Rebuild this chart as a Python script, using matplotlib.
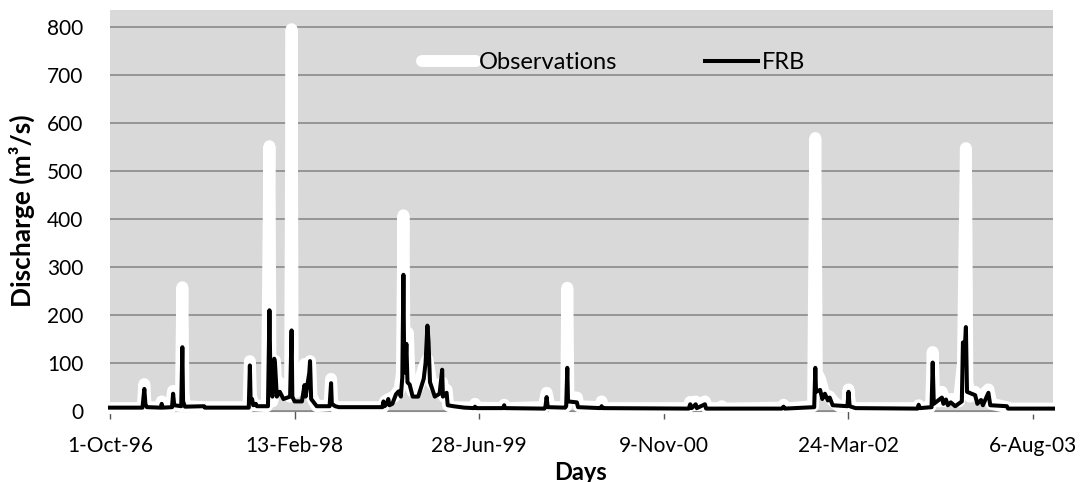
import numpy as np
import matplotlib.pyplot as plt

# day number counted from 1-Oct-96, daily discharge in m3/s
obs_days = [0, 85, 90, 93, 96, 100, 135, 140, 143, 165, 171, 174, 192, 196, 199, 203,
            255, 375, 379, 382, 390, 425, 432, 435, 440, 447, 451, 460, 468, 488, 492,
            495, 505, 520, 527, 535, 542, 546, 560, 595, 599, 602, 610, 740, 745, 755,
            770, 785, 791, 795, 798, 807, 812, 820, 835, 850, 860, 870, 890, 900, 905,
            912, 916, 925, 985, 989, 993, 1064, 1068, 1072, 1175, 1183, 1190, 1200,
            1233, 1236, 1239, 1242, 1265, 1270, 1328, 1332, 1336, 1565, 1572, 1580,
            1587, 1595, 1612, 1618, 1654, 1658, 1662, 1820, 1825, 1830, 1905, 1911,
            1915, 1924, 1935, 1950, 1960, 1975, 1997, 2001, 2005, 2015, 2187, 2191,
            2195, 2222, 2225, 2229, 2233, 2245, 2254, 2262, 2280, 2300, 2311, 2319,
            2323, 2330, 2344, 2355, 2380, 2388, 2430, 2435, 2555]
obs_vals = [6, 6, 20, 56, 15, 8, 7, 20, 8, 8, 42, 12, 10, 258, 40, 10,
            8, 8, 104, 30, 12, 10, 552, 60, 20, 105, 40, 59, 40, 30, 796,
            60, 40, 60, 98, 70, 104, 30, 10, 12, 67, 20, 8, 8, 20, 25,
            30, 46, 80, 408, 120, 163, 60, 40, 50, 90, 108, 60, 40, 60, 30,
            44, 12, 8, 7, 15, 7, 6, 13, 6, 8, 38, 12, 8,
            8, 10, 257, 30, 28, 10, 8, 20, 6, 6, 19, 12,
            20, 12, 20, 6, 6, 10, 5, 7, 13, 5, 10, 569,
            80, 66, 35, 30, 20, 10, 10, 45, 12, 6, 6, 12,
            6, 8, 15, 123, 30, 20, 40, 20, 25, 20, 100, 548,
            60, 30, 40, 25, 45, 15, 8, 5, 5]

frb_days = [0, 88, 93, 96, 100, 138, 140, 143, 168, 171, 174, 193, 196, 198, 203, 255,
            257, 376, 379, 381, 385, 388, 395, 398, 428, 432, 435, 440, 445, 447, 452,
            460, 470, 488, 492, 494, 500, 520, 527, 530, 540, 542, 545, 560, 595, 599,
            601, 610, 620, 738, 741, 744, 750, 754, 757, 765, 775, 782, 788, 792, 795,
            797, 800, 803, 806, 812, 820, 835, 850, 855, 860, 863, 867, 880, 893, 900,
            902, 912, 915, 930, 960, 986, 989, 992, 1065, 1068, 1070, 1177, 1180, 1183,
            1186, 1233, 1236, 1239, 1241, 1265, 1268, 1329, 1332, 1335, 1568, 1572,
            1576, 1587, 1590, 1612, 1615, 1820, 1825, 1828, 1908, 1911, 1913, 1924,
            1930, 1937, 1945, 1950, 1958, 1998, 2001, 2004, 2020, 2188, 2191, 2194,
            2226, 2229, 2232, 2254, 2258, 2265, 2270, 2278, 2290, 2308, 2311, 2316,
            2319, 2322, 2344, 2350, 2360, 2365, 2380, 2385, 2430, 2433, 2555]
frb_vals = [7, 7, 46, 14, 8, 7, 15, 7, 8, 36, 12, 10, 133, 20, 9, 10,
            7, 7, 95, 20, 25, 12, 15, 10, 10, 210, 50, 30, 109, 100, 30,
            40, 25, 30, 168, 30, 20, 20, 54, 30, 80, 104, 25, 10, 10, 58,
            15, 10, 8, 8, 20, 10, 15, 25, 12, 15, 35, 41, 30, 70, 284,
            100, 80, 140, 60, 55, 30, 30, 67, 100, 178, 145, 60, 30, 36, 86,
            30, 38, 12, 10, 7, 6, 9, 6, 6, 12, 6, 5, 10, 29,
            8, 7, 10, 90, 20, 18, 8, 6, 10, 6, 5, 14,
            6, 14, 6, 14, 5, 5, 9, 5, 8, 90, 40, 44,
            25, 36, 22, 28, 12, 10, 40, 10, 6, 5, 13, 6,
            8, 101, 15, 28, 15, 24, 12, 18, 10, 20, 143, 130,
            175, 40, 33, 15, 23, 12, 38, 12, 10, 5, 5]

tick_labels = ["1-Oct-96", "13-Feb-98", "28-Jun-99", "9-Nov-00", "24-Mar-02", "6-Aug-03"]
y_ticks = [0, 100, 200, 300, 400, 500, 600, 700, 800]

plt.rcParams["font.family"] = ["Lato", "DejaVu Sans"]

fig = plt.figure(figsize=(10.89, 4.82), dpi=100)
ax = fig.add_axes([110 / 1089, 1 - 411 / 482, 943 / 1089, 401 / 482])
ax.set_facecolor("#d9d9d9")

ax.plot(obs_days, obs_vals, color="white", lw=8.6, solid_joinstyle="round",
        solid_capstyle="round", clip_on=False, zorder=3, label="Observations")
ax.plot(frb_days, frb_vals, color="black", lw=2.9, solid_joinstyle="round",
        clip_on=False, zorder=4, label="FRB")

ax.set_xlim(0, 2555)
ax.set_ylim(0, 836)
ax.set_xticks(np.arange(len(tick_labels)) * 500)
ax.set_xticklabels(tick_labels, fontsize=15)
ax.set_yticks(y_ticks)
ax.set_yticklabels([str(v) for v in y_ticks], fontsize=15)

ax.grid(axis="y", color="#8a8a8a", lw=1.2, zorder=1)
ax.set_axisbelow(True)
for side in ["left", "right", "top"]:
    ax.spines[side].set_visible(False)
ax.spines["bottom"].set_color("#8a8a8a")
ax.tick_params(axis="y", length=0, pad=19)
ax.tick_params(axis="x", length=6, width=1, color="#555555", direction="out", pad=12)

ax.set_ylabel("Discharge (m³/s)", fontsize=19, fontweight="bold")
ax.yaxis.set_label_coords(-0.0795, 0.5)
fig.text(581 / 1089, 1 - 472 / 482, "Days", fontsize=17, fontweight="bold",
         ha="center", va="center")

ax.legend(loc="center", bbox_to_anchor=(0.534, 0.868), ncol=2, frameon=False,
          fontsize=17, handlelength=2.25, handletextpad=0.15, columnspacing=3.7)

fig.savefig("out.png", dpi=100)
